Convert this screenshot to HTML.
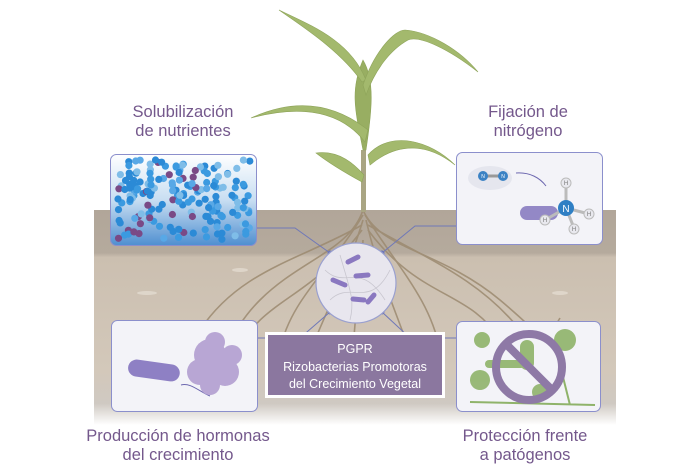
<!DOCTYPE html>
<html><head><meta charset="utf-8"><style>
body{margin:0;background:#fff;width:700px;height:467px;overflow:hidden;font-family:"Liberation Sans",sans-serif}
.t{position:absolute;color:#74588c;font-size:16.5px;text-align:center;line-height:19px}
</style></head><body>
<svg width="700" height="467" style="position:absolute;left:0;top:0">
<defs>
<linearGradient id="soil" x1="0" y1="0" x2="0" y2="1">
<stop offset="0" stop-color="#b1a699"/><stop offset="0.2" stop-color="#b5aa9d"/>
<stop offset="0.22" stop-color="#cbbfb0"/><stop offset="0.75" stop-color="#d3c8ba"/>
<stop offset="0.9" stop-color="#cfc9c2"/><stop offset="1" stop-color="#fff"/></linearGradient>
<linearGradient id="water" x1="0" y1="0" x2="0" y2="1">
<stop offset="0" stop-color="#fff"/><stop offset="0.5" stop-color="#c8def2"/><stop offset="1" stop-color="#4f8fd0"/></linearGradient>
</defs>
<rect x="94" y="210" width="522" height="215" fill="url(#soil)"/>
<g fill="#e3dbd0" opacity=".8"><ellipse cx="147" cy="293" rx="10" ry="2"/><ellipse cx="560" cy="293" rx="8" ry="2"/><ellipse cx="240" cy="270" rx="8" ry="2"/></g>
<g fill="none" stroke="#9c8a70" stroke-width="1.6" opacity=".85">
<path d="M363 210 C350 250 300 260 260 300 S220 380 215 400"/>
<path d="M363 210 C380 250 440 250 500 300 S540 350 560 318"/>
<path d="M363 215 C330 270 290 300 280 350"/>
<path d="M365 215 C400 270 430 300 440 350"/>
<path d="M363 220 C345 280 320 320 300 380"/>
<path d="M366 220 C380 280 400 320 420 380"/>
<path d="M362 225 C300 260 240 270 200 330"/>
<path d="M368 225 C430 260 480 280 520 330"/>
<path d="M363 240 C360 300 350 330 355 380"/>
<path d="M362 230 C310 300 260 300 240 350"/>
<path d="M368 230 C420 300 470 290 500 340"/>
</g>
<rect x="361" y="150" width="5" height="62" fill="#a9a583"/>
<g fill="#a3b96d" stroke="#8ea45a" stroke-width=".6">
<path d="M363 150 C355 110 350 90 363 60 C375 80 372 110 366 150Z" fill="#98ae62"/>
<path d="M362 82 C340 50 300 25 279 10 C310 25 350 40 366 80Z"/>
<path d="M363 85 C375 50 395 30 405 30 C430 32 460 50 478 72 C450 50 420 35 408 40 C390 50 375 70 366 95Z"/>
<path d="M365 142 C340 110 300 105 251 118 C290 100 330 100 368 130Z"/>
<path d="M368 155 C390 130 430 140 455 165 C430 145 400 140 370 165Z"/>
<path d="M362 182 C340 170 325 160 316 153 C340 150 355 165 364 175Z"/>
</g>
<g stroke="#6f78b8" stroke-width="1" fill="none">
<path d="M257 228 L295 228 L330 253"/><path d="M456 226 L415 226 L382 253"/>
<path d="M257 338 L300 338 L330 312"/><path d="M456 338 L410 338 L382 312"/>
</g>
<g fill="#6f78b8"><circle cx="330" cy="253" r="2.5"/><circle cx="382" cy="253" r="2.5"/><circle cx="330" cy="312" r="2.5"/><circle cx="382" cy="312" r="2.5"/></g>
<circle cx="356" cy="283" r="40" fill="#e8e6ee" stroke="#9aa0cf" stroke-width="1.2"/>
<g stroke="#c8c6cf" fill="none" stroke-width=".8"><path d="M325 270 C345 290 360 260 385 300"/><path d="M330 300 C350 280 370 310 390 270"/><path d="M340 255 C350 290 355 300 350 320"/></g>
<g stroke="#8a78c0" stroke-width="5" stroke-linecap="round">
<line x1="348" y1="262" x2="358" y2="257"/><line x1="333" y1="280" x2="345" y2="285"/><line x1="356" y1="276" x2="368" y2="275"/><line x1="353" y1="299" x2="364" y2="300"/><line x1="368" y1="302" x2="374" y2="295"/></g>
<rect x="110.5" y="154.5" width="146" height="91" rx="6" fill="url(#water)" stroke="#8b8fcc"/>
<g id="dots"></g>
<rect x="456.5" y="152.5" width="146" height="92" rx="6" fill="#f3f3f8" stroke="#8b8fcc"/>
<ellipse cx="490" cy="178" rx="22" ry="12" fill="#e5e6ee"/>
<line x1="483" y1="176" x2="503" y2="176" stroke="#999" stroke-width="3"/>
<circle cx="483" cy="176" r="5" fill="#3b82c4"/><circle cx="503" cy="176" r="5" fill="#3b82c4"/>
<path d="M516 173 C530 172 540 178 546 186" stroke="#6d68b0" fill="none"/>
<rect x="520" y="206" width="38" height="14" rx="7" fill="#9388c6"/>
<g stroke="#bbb" stroke-width="3"><line x1="566" y1="208" x2="566" y2="183"/><line x1="566" y1="208" x2="545" y2="220"/><line x1="566" y1="208" x2="589" y2="214"/><line x1="566" y1="208" x2="574" y2="228"/></g>
<g fill="#e8e8ee" stroke="#bbb"><circle cx="566" cy="183" r="5"/><circle cx="545" cy="220" r="5"/><circle cx="589" cy="214" r="5"/><circle cx="574" cy="229" r="5"/></g>
<circle cx="566" cy="208" r="8" fill="#2f7fc4"/>
<g font-size="6" fill="#777" text-anchor="middle" font-family="Liberation Sans"><text x="566" y="185">H</text><text x="545" y="222">H</text><text x="589" y="216">H</text><text x="574" y="231">H</text></g>
<text x="483" y="178" font-size="5" fill="#fff" text-anchor="middle">N</text><text x="503" y="178" font-size="5" fill="#fff" text-anchor="middle">N</text>
<text x="566" y="212" font-size="10" fill="#fff" text-anchor="middle">N</text>
<rect x="111.5" y="320.5" width="146" height="91" rx="6" fill="#f3f3f8" stroke="#8b8fcc"/>
<rect x="128" y="362" width="52" height="17" rx="8.5" fill="#8e80c4" transform="rotate(8 154 370)"/>
<path d="M181 385 C190 382 200 392 210 396" stroke="#6d68b0" fill="none"/>
<g fill="#b8a6d4"><circle cx="210" cy="355" r="16"/><circle cx="200" cy="372" r="13"/><circle cx="225" cy="372" r="14"/><circle cx="215" cy="342" r="10"/><circle cx="232" cy="355" r="10"/><circle cx="210" cy="385" r="10"/></g>
<rect x="456.5" y="321.5" width="144" height="90" rx="6" fill="#f3f3f8" stroke="#8b8fcc"/>
<g fill="#8fb36a" opacity=".9"><circle cx="482" cy="340" r="8"/><circle cx="565" cy="340" r="11"/><circle cx="480" cy="380" r="10"/><circle cx="540" cy="392" r="8"/><rect x="520" y="340" width="14" height="30" rx="7"/><rect x="485" y="360" width="40" height="8" rx="4"/></g>
<path d="M560 365 L570 405 M470 402 L595 405" stroke="#8fb36a" stroke-width="2"/>
<circle cx="529" cy="367" r="33" fill="none" stroke="#8e79a6" stroke-width="8"/>
<line x1="506" y1="344" x2="552" y2="390" stroke="#8e79a6" stroke-width="8"/>
<rect x="265" y="332" width="180" height="66" fill="#fff"/>
<rect x="268" y="335" width="174" height="60" fill="#8b779f"/>
</svg>
<div class="t" style="left:276px;top:341px;width:158px;color:#fff;font-size:12.5px;line-height:17.5px">PGPR<br>Rizobacterias Promotoras<br>del Crecimiento Vegetal</div>
<div class="t" style="left:80px;top:103px;width:206px">Solubilización<br>de nutrientes</div>
<div class="t" style="left:430px;top:103px;width:196px">Fijación de<br>nitrógeno</div>
<div class="t" style="left:60px;top:427px;width:236px">Producción de hormonas<br>del crecimiento</div>
<div class="t" style="left:420px;top:427px;width:210px">Protección frente<br>a patógenos</div>
<script>
var g=document.getElementById('dots'),s='',seed=7;function r(){seed=(seed*9301+49297)%233280;return seed/233280}
var c=['#2b8ad6','#3b9ae0','#7fbde8','#2b8ad6','#7a4a86','#58a8e6','#3b9ae0'];
for(var i=0;i<180;i++){var x=118+r()*132,y=160+r()*80;s+='<circle cx="'+x.toFixed(1)+'" cy="'+y.toFixed(1)+'" r="3.6" fill="'+c[Math.floor(r()*7)]+'"/>'}
g.innerHTML=s;
</script>
</body></html>
